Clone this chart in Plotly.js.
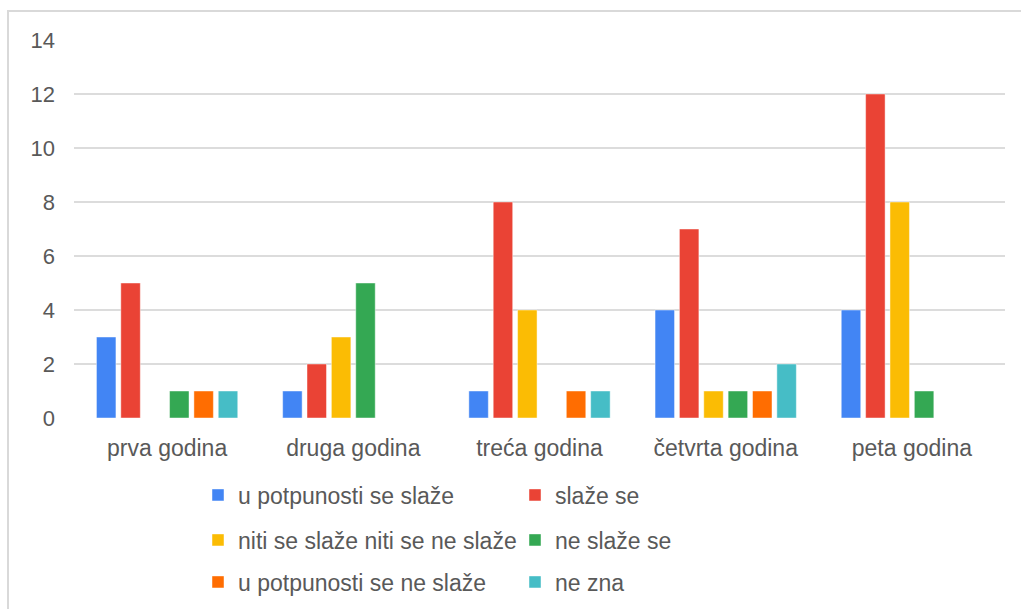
<!DOCTYPE html>
<html>
<head>
<meta charset="utf-8">
<script src="https://cdn.plot.ly/plotly-3.0.1.min.js"></script>
<style>html,body{margin:0;padding:0;background:#fff;}</style>
</head>
<body>
<div id="chart" style="width:1021px;height:609px;"></div>
<script>
const categories = ["prva godina", "druga godina", "treća godina", "četvrta godina", "peta godina"];
const seriesNames = ["u potpunosti se slaže", "slaže se", "niti se slaže niti se ne slaže", "ne slaže se", "u potpunosti se ne slaže", "ne zna"];
const uPotpunostiSeSlaze = [3, 1, 1, 4, 4];
const slazeSe = [5, 2, 8, 7, 12];
const nitiNiti = [0, 3, 4, 1, 8];
const neSlazeSe = [1, 5, 0, 1, 1];
const uPotpunostiSeNeSlaze = [1, 0, 1, 1, 0];
const neZna = [1, 0, 1, 2, 0];
const seriesValues = [uPotpunostiSeSlaze, slazeSe, nitiNiti, neSlazeSe, uPotpunostiSeNeSlaze, neZna];
const colors = ["#4285F4", "#EA4335", "#FBBC04", "#34A853", "#FF6D01", "#46BDC6"];
const yTicks = [0, 2, 4, 6, 8, 10, 12, 14];

const legendIds = ["legend", "legend", "legend2", "legend2", "legend3", "legend3"];
const traces = seriesNames.map((name, i) => ({
  type: "bar",
  name: name,
  x: categories,
  y: seriesValues[i],
  legend: legendIds[i],
  marker: {color: colors[i], line: {color: "rgba(255,255,255,0.45)", width: 1}},
  hoverinfo: "skip"
}));

const ff = "Liberation Sans, Arial, sans-serif";
const tickFont = {family: ff, size: 22, color: "#595959"};
const catFont = {family: ff, size: 23, color: "#595959"};
const legendBase = {
  orientation: "h",
  x: (198 - 74) / 931, xanchor: "left",
  yanchor: "middle",
  entrywidth: 272, entrywidthmode: "pixels",
  font: {family: ff, size: 23, color: "#595959"},
  bgcolor: "rgba(0,0,0,0)",
  traceorder: "normal"
};

const layout = {
  width: 1021, height: 609,
  margin: {l: 74, r: 16, t: 40, b: 191, autoexpand: false},
  paper_bgcolor: "#fff", plot_bgcolor: "#fff",
  font: tickFont,
  barmode: "group",
  bargap: 0.215,
  bargroupgap: 0.2,
  showlegend: true,
  xaxis: {
    type: "category",
    tickfont: catFont,
    showgrid: false, zeroline: false, showline: false,
    ticks: "", ticklabelstandoff: 14
  },
  yaxis: {
    range: [0, 14], tickvals: yTicks, ticktext: yTicks.map(String),
    tickfont: tickFont,
    showgrid: true, gridcolor: "#dcdcdc", gridwidth: 2,
    zeroline: false, showline: false, ticks: "",
    ticklabelstandoff: 18
  },
  legend: Object.assign({}, legendBase, {y: (418 - 495) / 378}),
  legend2: Object.assign({}, legendBase, {y: (418 - 540) / 378}),
  legend3: Object.assign({}, legendBase, {y: (418 - 582) / 378}),
  shapes: [{
    type: "rect", xref: "paper", yref: "paper",
    x0: -66 / 931, x1: 1.05, y0: -0.6, y1: (418 - 11) / 378,
    line: {color: "#d9d9d9", width: 2}, layer: "below"
  }]
};

Plotly.newPlot("chart", traces, layout, {displayModeBar: false, staticPlot: true});
</script>
</body>
</html>
